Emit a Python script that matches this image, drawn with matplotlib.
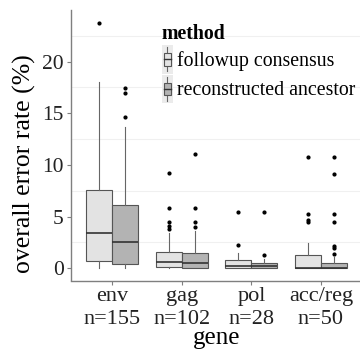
import matplotlib
matplotlib.use("Agg")
import matplotlib.pyplot as plt
from matplotlib.patches import Patch, Rectangle
from matplotlib.lines import Line2D
from matplotlib.legend_handler import HandlerBase

plt.rcParams["font.family"] = ["Liberation Serif", "DejaVu Serif"]

genes = ["env", "gag", "pol", "acc/reg"]
counts = [155, 102, 28, 50]
methods = ["followup consensus", "reconstructed ancestor"]
method_colors = ["#e3e3e3", "#b3b3b3"]

# box statistics (error rate, %)
followup_q1 = [0.7, 0.15, 0.0, 0.0]
followup_med = [3.45, 0.58, 0.25, 0.0]
followup_q3 = [7.6, 1.55, 0.8, 1.29]
followup_whislo = [0.0, 0.0, 0.0, 0.0]
followup_whishi = [18.05, 3.45, 1.45, 2.42]
followup_fliers = [[23.7], [9.25, 5.87, 4.51, 4.1, 3.8], [5.42, 2.25],
                   [10.8, 5.26, 4.68, 4.45]]

recon_q1 = [0.42, 0.0, 0.0, 0.0]
recon_med = [2.5, 0.55, 0.22, 0.0]
recon_q3 = [6.1, 1.45, 0.48, 0.48]
recon_whislo = [0.0, 0.0, 0.0, 0.0]
recon_whishi = [13.7, 3.64, 0.87, 1.06]
recon_fliers = [[14.6, 17.0, 17.45], [11.1, 5.87, 4.5, 4.0], [5.42, 1.26],
                [10.8, 9.1, 5.26, 4.5, 2.16, 1.96, 1.41]]


def make_stats(q1, med, q3, lo, hi, fl):
    return [dict(q1=a, med=b, q3=c, whislo=d, whishi=e, fliers=f)
            for a, b, c, d, e, f in zip(q1, med, q3, lo, hi, fl)]


series = [
    make_stats(followup_q1, followup_med, followup_q3, followup_whislo, followup_whishi, followup_fliers),
    make_stats(recon_q1, recon_med, recon_q3, recon_whislo, recon_whishi, recon_fliers),
]

fig = plt.figure(figsize=(3.6, 3.49), dpi=100)
ax = fig.add_axes([70.6 / 360, 1 - 280.5 / 349, 292 / 360, 270.5 / 349])

box_w = 0.375
for k, (stats, col) in enumerate(zip(series, method_colors)):
    pos = [i + 1 + (k - 0.5) * box_w for i in range(len(genes))]
    ax.bxp(stats, positions=pos, widths=box_w, patch_artist=True, showcaps=False,
           boxprops=dict(facecolor=col, edgecolor="#555555", linewidth=0.8),
           medianprops=dict(color="#333333", linewidth=1.2),
           whiskerprops=dict(color="#666666", linewidth=0.8),
           flierprops=dict(marker="o", markersize=2.0, markerfacecolor="black",
                           markeredgecolor="black"),
           zorder=3)

ax.set_xlim(0.4, 4.6)
ax.set_ylim(-1.19, 25)
ax.set_yticks([0, 5, 10, 15, 20])
ax.set_yticks([2.5, 7.5, 12.5, 17.5, 22.5], minor=True)
ax.yaxis.grid(True, which="minor", color="#f0f0f0", linewidth=0.8)
ax.set_axisbelow(True)
ax.set_xticks(range(1, len(genes) + 1))
ax.set_xticklabels([f"{g}\nn={n}" for g, n in zip(genes, counts)], linespacing=1.25)
for s in ["top", "right"]:
    ax.spines[s].set_visible(False)
for s in ["left", "bottom"]:
    ax.spines[s].set_color("#7f7f7f")
    ax.spines[s].set_linewidth(1.0)
ax.tick_params(axis="both", which="major", colors="#7f7f7f", length=3, width=0.8,
               labelcolor="#222222", pad=2)
ax.tick_params(axis="x", labelsize=16)
ax.tick_params(axis="y", labelsize=15.5)
ax.tick_params(axis="y", which="minor", length=0)
ax.set_ylabel("overall error rate (%)", fontsize=18.5, color="black")
ax.yaxis.set_label_coords((24 - 70.6) / 292, (280.5 - 164) / 270.5)
ax.yaxis.label.set_va("center")
ax.set_xlabel("gene", fontsize=18, color="black", labelpad=-1.5)


class BoxKeyHandler(HandlerBase):
    def create_artists(self, legend, orig_handle, xdescent, ydescent, width, height,
                       fontsize, trans):
        x0, y0 = -xdescent, -ydescent
        bg = Rectangle((x0, y0), width, height, facecolor="#ebebeb", edgecolor="none",
                       transform=trans)
        cx = x0 + width / 2
        bw = width * 0.7
        whisk = Line2D([cx, cx], [y0 + height * 0.08, y0 + height * 0.92],
                       color="#666666", linewidth=0.8, transform=trans)
        box = Rectangle((cx - bw / 2, y0 + height * 0.28), bw, height * 0.44,
                        facecolor=orig_handle.get_facecolor(), edgecolor="#555555",
                        linewidth=0.8, transform=trans)
        med = Line2D([cx - bw / 2, cx + bw / 2], [y0 + height * 0.5] * 2,
                     color="#333333", linewidth=1.0, transform=trans)
        return [bg, whisk, box, med]


handles = [Patch(facecolor=c) for c in method_colors]
leg = ax.legend(handles, methods, title="method", loc="upper left",
                bbox_to_anchor=(0.265, 1.0), frameon=False, fontsize=14.3,
                title_fontproperties=dict(weight="bold", size=14.3),
                handler_map={Patch: BoxKeyHandler()}, handlelength=0.55,
                handleheight=1.85, handletextpad=0.2, labelspacing=0.05,
                borderpad=0.2, alignment="left")

fig.savefig("out.png", dpi=100)
